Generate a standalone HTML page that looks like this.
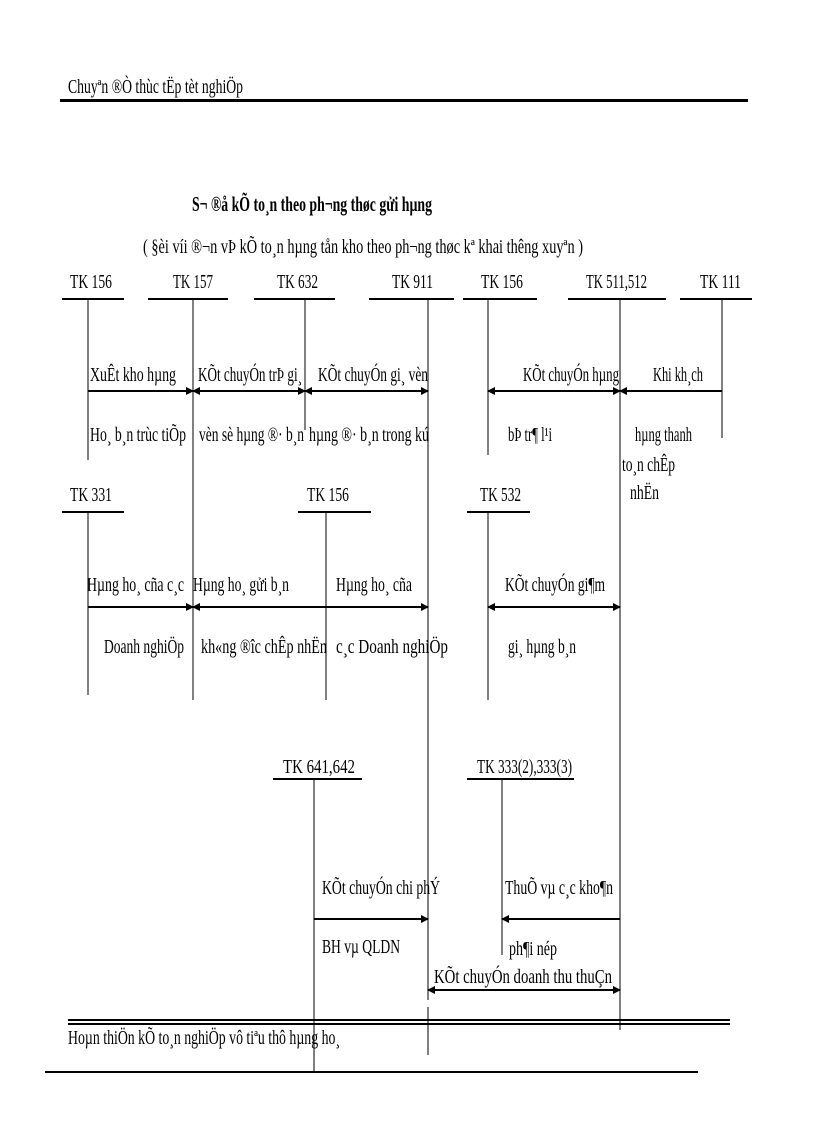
<!DOCTYPE html>
<html><head><meta charset="utf-8"><style>
html,body{margin:0;padding:0;background:#fff;}
svg{display:block;}
text{font-family:"Liberation Serif",serif;font-size:20px;fill:#000;}
</style></head><body>
<svg width="816" height="1123" viewBox="0 0 816 1123" xmlns="http://www.w3.org/2000/svg">
<defs>
<marker id="a" markerWidth="8" markerHeight="8" refX="7" refY="4" orient="auto" markerUnits="userSpaceOnUse"><path d="M0,0 L8,4 L0,8 Z" fill="#000"/></marker>
<marker id="b" markerWidth="8" markerHeight="8" refX="1" refY="4" orient="auto" markerUnits="userSpaceOnUse"><path d="M8,0 L0,4 L8,8 Z" fill="#000"/></marker>
</defs>
<text x="68" y="93" textLength="175" lengthAdjust="spacingAndGlyphs">Chuyªn ®Ò thùc tËp tèt nghiÖp</text>
<rect x="60" y="99" width="688" height="3" fill="#000"/>
<text x="192" y="211" textLength="240" lengthAdjust="spacingAndGlyphs" style="font-weight:bold;font-size:21px">S¬ ®å kÕ to¸n theo ph­¬ng  thøc gửi hµng</text>
<text x="143" y="253" textLength="440" lengthAdjust="spacingAndGlyphs">( §èi víi ®¬n vÞ kÕ to¸n hµng tån kho theo ph­¬ng  thøc kª khai th­êng  xuyªn )</text>

<g>
<text x="70" y="288" textLength="42" lengthAdjust="spacingAndGlyphs">TK 156</text>
<text x="173" y="288" textLength="40" lengthAdjust="spacingAndGlyphs">TK 157</text>
<text x="277" y="288" textLength="41" lengthAdjust="spacingAndGlyphs">TK 632</text>
<text x="392" y="288" textLength="41" lengthAdjust="spacingAndGlyphs">TK 911</text>
<text x="481" y="288" textLength="42" lengthAdjust="spacingAndGlyphs">TK 156</text>
<text x="586" y="288" textLength="61" lengthAdjust="spacingAndGlyphs">TK 511,512</text>
<text x="700" y="288" textLength="41" lengthAdjust="spacingAndGlyphs">TK 111</text>
</g>
<g stroke="#000" stroke-width="2">
<line x1="62" y1="299" x2="124" y2="299"/>
<line x1="148" y1="299" x2="228" y2="299"/>
<line x1="254" y1="299" x2="335" y2="299"/>
<line x1="369" y1="299" x2="454" y2="299"/>
<line x1="463" y1="299" x2="537" y2="299"/>
<line x1="568" y1="299" x2="666" y2="299"/>
<line x1="680" y1="299" x2="752" y2="299"/>
<line x1="62" y1="512" x2="124" y2="512"/>
<line x1="298" y1="512" x2="371" y2="512"/>
<line x1="467" y1="512" x2="530" y2="512"/>
<line x1="273" y1="779" x2="362" y2="779"/>
<line x1="467" y1="779" x2="574" y2="779"/>
</g>
<g stroke="#000" stroke-width="1">
<line x1="88" y1="299" x2="88" y2="460"/>
<line x1="193" y1="299" x2="193" y2="700"/>
<line x1="305" y1="299" x2="305" y2="430"/>
<line x1="428" y1="299" x2="428" y2="1000"/>
<line x1="428" y1="1007" x2="428" y2="1055"/>
<line x1="488" y1="299" x2="488" y2="455"/>
<line x1="620" y1="299" x2="620" y2="1030"/>
<line x1="722" y1="299" x2="722" y2="438"/>
<line x1="88" y1="512" x2="88" y2="695"/>
<line x1="326" y1="512" x2="326" y2="700"/>
<line x1="488" y1="512" x2="488" y2="700"/>
<line x1="314" y1="779" x2="314" y2="1072"/>
<line x1="502" y1="779" x2="502" y2="955"/>
</g>
<g stroke="#000" stroke-width="2">
<line x1="88" y1="391" x2="193" y2="391" marker-end="url(#a)"/>
<line x1="193" y1="391" x2="305" y2="391" marker-start="url(#b)" marker-end="url(#a)"/>
<line x1="305" y1="391" x2="428" y2="391" marker-start="url(#b)" marker-end="url(#a)"/>
<line x1="488" y1="391" x2="620" y2="391" marker-start="url(#b)" marker-end="url(#a)"/>
<line x1="722" y1="391" x2="620" y2="391" marker-end="url(#a)"/>
<line x1="88" y1="607" x2="193" y2="607" marker-end="url(#a)"/>
<line x1="193" y1="607" x2="428" y2="607" marker-start="url(#b)" marker-end="url(#a)"/>
<line x1="488" y1="607" x2="620" y2="607" marker-start="url(#b)" marker-end="url(#a)"/>
<line x1="314" y1="919" x2="428" y2="919" marker-end="url(#a)"/>
<line x1="620" y1="919" x2="502" y2="919" marker-end="url(#a)"/>
<line x1="428" y1="990" x2="620" y2="990" marker-start="url(#b)" marker-end="url(#a)"/>
</g>
<g>
<text x="90" y="381" textLength="86" lengthAdjust="spacingAndGlyphs">XuÊt kho hµng</text>
<text x="198" y="381" textLength="104" lengthAdjust="spacingAndGlyphs">KÕt chuyÓn trÞ gi¸</text>
<text x="318" y="381" textLength="110" lengthAdjust="spacingAndGlyphs">KÕt chuyÓn gi¸ vèn</text>
<text x="523" y="381" textLength="96" lengthAdjust="spacingAndGlyphs">KÕt chuyÓn hµng</text>
<text x="653" y="381" textLength="50" lengthAdjust="spacingAndGlyphs">Khi kh¸ch</text>
<text x="90" y="441" textLength="96" lengthAdjust="spacingAndGlyphs">Ho¸ b¸n trùc tiÕp</text>
<text x="199" y="441" textLength="105" lengthAdjust="spacingAndGlyphs">vèn sè hµng ®· b¸n</text>
<text x="309" y="441" textLength="120" lengthAdjust="spacingAndGlyphs">hµng ®· b¸n trong kú</text>
<text x="508" y="441" textLength="44" lengthAdjust="spacingAndGlyphs">bÞ tr¶ l¹i</text>
<text x="635" y="441" textLength="57" lengthAdjust="spacingAndGlyphs">hµng  thanh</text>
<text x="622" y="471" textLength="53" lengthAdjust="spacingAndGlyphs">to¸n chÊp</text>
<text x="630" y="499" textLength="29" lengthAdjust="spacingAndGlyphs">nhËn</text>

<text x="70" y="501" textLength="42" lengthAdjust="spacingAndGlyphs">TK 331</text>
<text x="307" y="501" textLength="42" lengthAdjust="spacingAndGlyphs">TK 156</text>
<text x="480" y="501" textLength="41" lengthAdjust="spacingAndGlyphs">TK 532</text>

<text x="87" y="591" textLength="97" lengthAdjust="spacingAndGlyphs">Hµng ho¸ cña c¸c</text>
<text x="193" y="591" textLength="96" lengthAdjust="spacingAndGlyphs">Hµng ho¸ gửi b¸n</text>
<text x="336" y="591" textLength="76" lengthAdjust="spacingAndGlyphs">Hµng ho¸ cña</text>
<text x="505" y="591" textLength="100" lengthAdjust="spacingAndGlyphs">KÕt chuyÓn gi¶m</text>
<text x="104" y="653" textLength="80" lengthAdjust="spacingAndGlyphs">Doanh nghiÖp</text>
<text x="201" y="653" textLength="126" lengthAdjust="spacingAndGlyphs">kh«ng ®­îc  chÊp nhËn</text>
<text x="336" y="653" textLength="112" lengthAdjust="spacingAndGlyphs">c¸c Doanh nghiÖp</text>
<text x="508" y="653" textLength="68" lengthAdjust="spacingAndGlyphs">gi¸ hµng b¸n</text>

<text x="283" y="773" textLength="72" lengthAdjust="spacingAndGlyphs">TK 641,642</text>
<text x="477" y="773" textLength="95" lengthAdjust="spacingAndGlyphs">TK 333(2),333(3)</text>
<text x="322" y="894" textLength="118" lengthAdjust="spacingAndGlyphs">KÕt chuyÓn chi phÝ</text>
<text x="505" y="894" textLength="108" lengthAdjust="spacingAndGlyphs">ThuÕ vµ c¸c kho¶n</text>
<text x="322" y="953" textLength="78" lengthAdjust="spacingAndGlyphs">BH vµ QLDN</text>
<text x="509" y="955" textLength="48" lengthAdjust="spacingAndGlyphs">ph¶i nép</text>
<text x="434" y="983" textLength="178" lengthAdjust="spacingAndGlyphs">KÕt chuyÓn doanh thu thuÇn</text>
</g>
<rect x="68" y="1019" width="662" height="2" fill="#000"/>
<rect x="68" y="1023" width="662" height="2" fill="#000"/>
<text x="68" y="1044" textLength="272" lengthAdjust="spacingAndGlyphs">Hoµn thiÖn kÕ to¸n nghiÖp vô tiªu thô hµng ho¸</text>
<rect x="45" y="1071" width="653" height="2" fill="#000"/>
</svg>
</body></html>
